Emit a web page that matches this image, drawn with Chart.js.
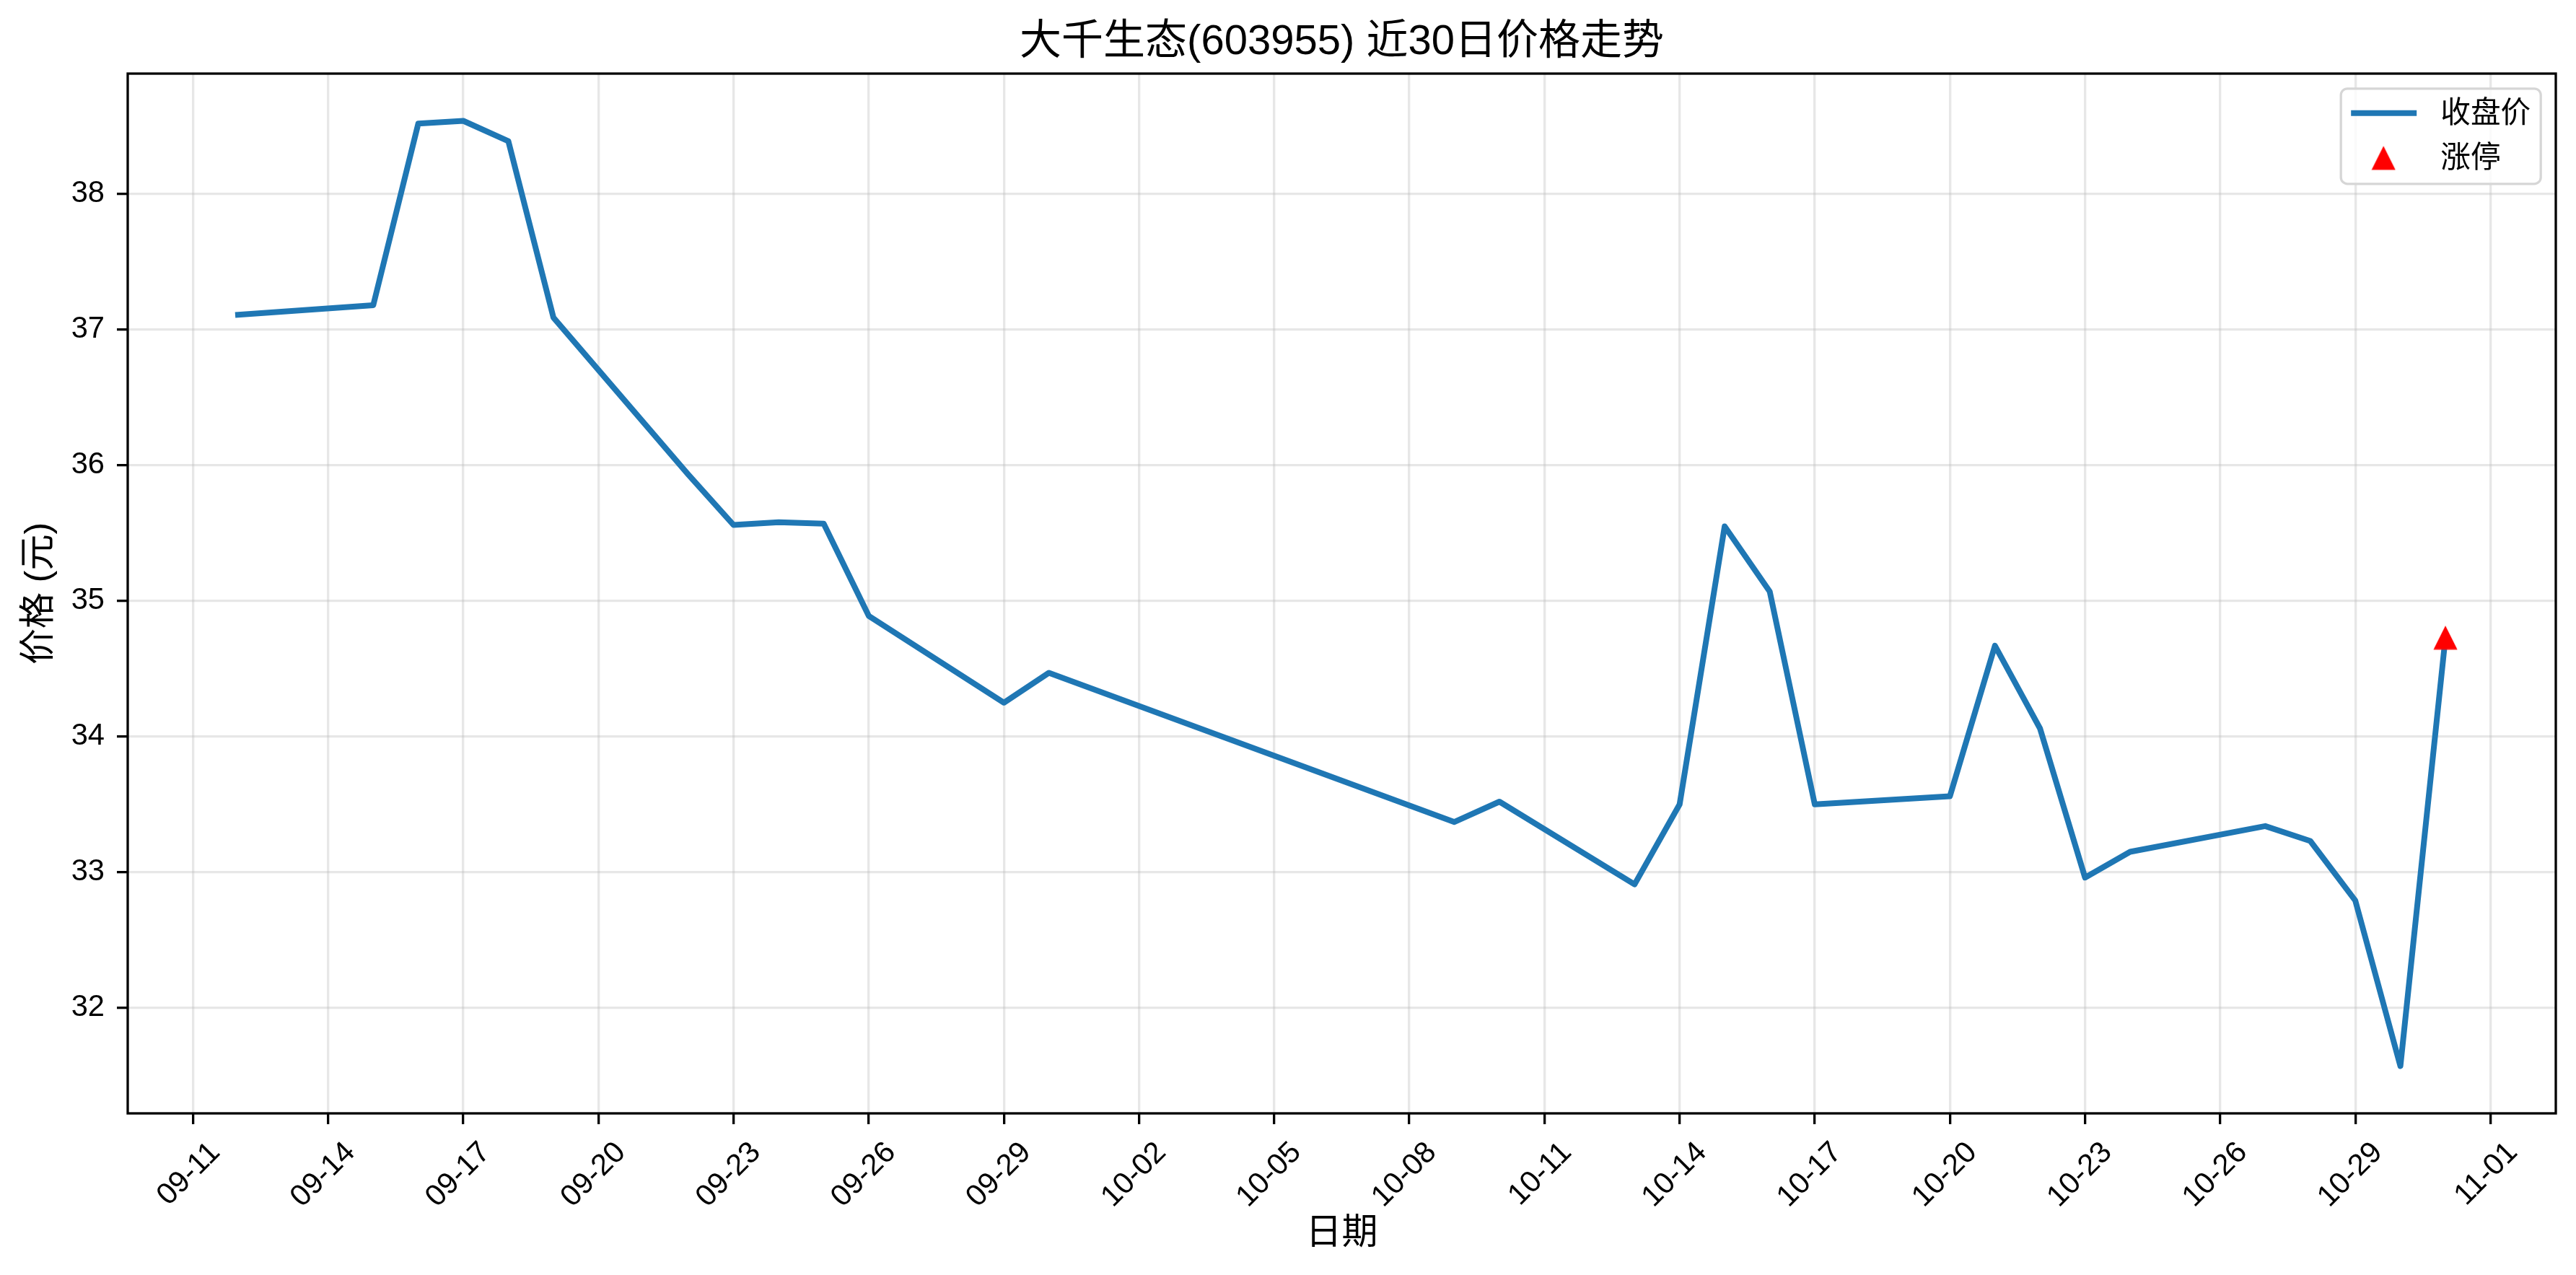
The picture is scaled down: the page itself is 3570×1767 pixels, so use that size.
<!DOCTYPE html>
<html>
<head>
<meta charset="utf-8">
<title>大千生态(603955) 近30日价格走势</title>
<script src="https://cdn.jsdelivr.net/npm/chart.js@4.4.1/dist/chart.umd.min.js"></script>
<style>
  html, body { margin: 0; padding: 0; background: #ffffff; }
  canvas { display: block; }
</style>
</head>
<body>
<canvas id="chart" width="3570" height="1767"></canvas>
<script>
// ---- data ----
var year = 2025;
var dates = ['09-12', '09-15', '09-16', '09-17', '09-18', '09-19',
             '09-22', '09-23', '09-24', '09-25', '09-26',
             '09-29', '09-30', '10-09', '10-10',
             '10-13', '10-14', '10-15', '10-16', '10-17',
             '10-20', '10-21', '10-22', '10-23', '10-24',
             '10-27', '10-28', '10-29', '10-30', '10-31'];
var closePrices = [37.11, 37.18, 38.52, 38.54, 38.39, 37.09,
                   35.93, 35.56, 35.58, 35.57, 34.89,
                   34.25, 34.47, 33.37, 33.52,
                   32.91, 33.50, 35.55, 35.07, 33.50,
                   33.56, 34.67, 34.06, 32.96, 33.15,
                   33.34, 33.23, 32.79, 31.57, 34.73];
var limitUpDates = ['10-31'];
var limitUpPrices = [34.73];
var xTickLabels = ['09-11', '09-14', '09-17', '09-20', '09-23', '09-26', '09-29',
                   '10-02', '10-05', '10-08', '10-11', '10-14', '10-17', '10-20',
                   '10-23', '10-26', '10-29', '11-01'];
var yTickValues = [32, 33, 34, 35, 36, 37, 38];

var FONT = "'Liberation Sans', 'Noto Sans CJK SC', sans-serif";
var LINE_BLUE = '#1f77b4';
var GRID = 'rgba(176,176,176,0.3)';

// 'MM-DD' -> day number
function dayNum(md) {
    var p = md.split('-');
    return Date.UTC(year, +p[0] - 1, +p[1]) / 86400000;
}

function toPoints(ds, vs) {
    var out = [];
    for (var i = 0; i < ds.length; i++) {
        out.push({ x: dayNum(ds[i]), y: vs[i] });
    }
    return out;
}

// axis limits like matplotlib's 5% auto margin
var xs = dates.map(dayNum);
var xLo = Math.min.apply(null, xs), xHi = Math.max.apply(null, xs);
var yLo = Math.min.apply(null, closePrices.concat(limitUpPrices));
var yHi = Math.max.apply(null, closePrices.concat(limitUpPrices));
var xMin = xLo - (xHi - xLo) * 0.05, xMax = xHi + (xHi - xLo) * 0.05;
var yMin = yLo - (yHi - yLo) * 0.05, yMax = yHi + (yHi - yLo) * 0.05;

// red up-triangle marker (matplotlib '^')
var tri = document.createElement('canvas');
tri.width = 34; tri.height = 34;
(function () {
    var c = tri.getContext('2d');
    c.fillStyle = '#ff0000';
    c.beginPath();
    c.moveTo(17, 0.5);
    c.lineTo(33.5, 33.5);
    c.lineTo(0.5, 33.5);
    c.closePath();
    c.fill();
})();

// black box around the plot area
var framePlugin = {
    id: 'frame',
    afterDraw: function (chart) {
        var a = chart.chartArea, ctx = chart.ctx;
        ctx.save();
        ctx.strokeStyle = '#000000';
        ctx.lineWidth = 3.3;
        ctx.strokeRect(a.left, a.top, a.right - a.left, a.bottom - a.top);
        ctx.restore();
    }
};

// legend in the upper right corner of the axes
var legendPlugin = {
    id: 'cornerLegend',
    afterDraw: function (chart) {
        var ctx = chart.ctx, a = chart.chartArea;
        var ds = chart.data.datasets;
        var w = 277, h = 132, pad = 20.8, r = 9;
        var left = a.right - pad - w, top = a.top + pad;
        ctx.save();
        ctx.beginPath();
        ctx.moveTo(left + r, top);
        ctx.arcTo(left + w, top, left + w, top + h, r);
        ctx.arcTo(left + w, top + h, left, top + h, r);
        ctx.arcTo(left, top + h, left, top, r);
        ctx.arcTo(left, top, left + w, top, r);
        ctx.closePath();
        ctx.fillStyle = 'rgba(255,255,255,0.8)';
        ctx.fill();
        ctx.strokeStyle = '#d6d6d6';
        ctx.lineWidth = 3.3;
        ctx.stroke();

        // row 1: line handle
        ctx.beginPath();
        ctx.strokeStyle = ds[0].borderColor;
        ctx.lineWidth = ds[0].borderWidth;
        ctx.lineCap = 'square';
        ctx.moveTo(left + 18, top + 34);
        ctx.lineTo(left + 101, top + 34);
        ctx.stroke();
        // row 2: marker
        ctx.drawImage(tri, left + 59 - 17, top + 96 - 17);

        ctx.fillStyle = '#000000';
        ctx.font = '41.7px ' + FONT;
        ctx.textBaseline = 'middle';
        ctx.textAlign = 'left';
        ctx.fillText(ds[0].label, left + 138, top + 36);
        ctx.fillText(ds[1].label, left + 138, top + 98);
        ctx.restore();
    }
};

var ctx = document.getElementById('chart').getContext('2d');
new Chart(ctx, {
    type: 'line',
    data: {
        datasets: [{
            label: '收盘价',
            data: toPoints(dates, closePrices),
            order: 1,
            borderColor: LINE_BLUE,
            borderWidth: 8,
            borderCapStyle: 'square',
            borderJoinStyle: 'round',
            pointRadius: 0,
            pointHoverRadius: 0,
            tension: 0,
            fill: false
        }, {
            label: '涨停',
            data: toPoints(limitUpDates, limitUpPrices),
            order: 0,
            showLine: false,
            pointStyle: tri,
            pointRadius: 17,
            pointHoverRadius: 17,
            backgroundColor: '#ff0000',
            borderColor: '#ff0000'
        }]
    },
    options: {
        responsive: false,
        devicePixelRatio: 1,
        animation: false,
        events: [],
        layout: { padding: { left: 0, top: 0, right: 28, bottom: 0 } },
        plugins: {
            legend: { display: false },
            tooltip: { enabled: false },
            title: {
                display: true,
                text: '大千生态(603955) 近30日价格走势',
                fullSize: false,
                color: '#000000',
                font: { family: FONT, size: 58, weight: 'normal', lineHeight: 1.2 },
                padding: { top: 24, bottom: 8.4 }
            }
        },
        scales: {
            x: {
                type: 'linear',
                min: xMin,
                max: xMax,
                afterBuildTicks: function (scale) {
                    scale.ticks = xTickLabels.map(function (l) { return { value: dayNum(l) }; });
                },
                afterFit: function (scale) { scale.height = 224; },
                border: { display: false },
                grid: {
                    color: GRID,
                    lineWidth: 3.3,
                    drawTicks: true,
                    tickLength: 15,
                    tickColor: '#000000',
                    tickWidth: 3.3
                },
                ticks: {
                    autoSkip: false,
                    minRotation: 45,
                    maxRotation: 45,
                    padding: 15,
                    labelOffset: 31,
                    color: '#000000',
                    font: { family: FONT, size: 41.7 },
                    callback: function (v, i) { return xTickLabels[i]; }
                },
                title: {
                    display: true,
                    text: '日期',
                    color: '#000000',
                    font: { family: FONT, size: 50, lineHeight: 1.2 },
                    padding: { top: 0, bottom: 27 }
                }
            },
            y: {
                min: yMin,
                max: yMax,
                afterBuildTicks: function (scale) {
                    scale.ticks = yTickValues.map(function (v) { return { value: v }; });
                },
                afterFit: function (scale) { scale.width = 177; },
                border: { display: false },
                grid: {
                    color: GRID,
                    lineWidth: 3.3,
                    drawTicks: true,
                    tickLength: 15,
                    tickColor: '#000000',
                    tickWidth: 3.3
                },
                ticks: {
                    padding: 17,
                    color: '#000000',
                    font: { family: FONT, size: 41.7 },
                    callback: function (v) { return String(v); }
                },
                title: {
                    display: true,
                    text: '价格 (元)',
                    color: '#000000',
                    font: { family: FONT, size: 50, lineHeight: 1.2 },
                    padding: { top: 25, bottom: 0 }
                }
            }
        }
    },
    plugins: [framePlugin, legendPlugin]
});
</script>
</body>
</html>
